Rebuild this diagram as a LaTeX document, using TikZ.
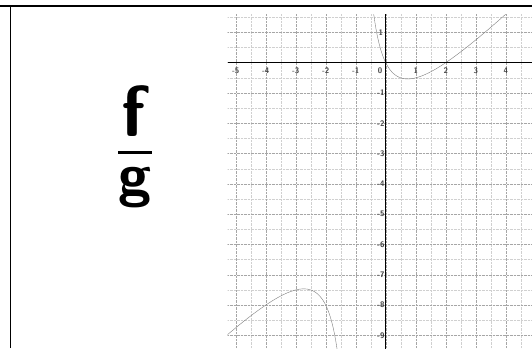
\documentclass[tikz,border=0pt]{standalone}
\usepackage{amsmath}
\usepackage{tikz}
\usetikzlibrary{positioning}
\definecolor{GridGray}{RGB}{150,150,150}
\definecolor{CurveGray}{RGB}{125,125,125}
\definecolor{LabelGray}{RGB}{60,60,60}

\begin{document}
\begin{tikzpicture}[x=1pt, y=1pt]
    \useasboundingbox (0,0) rectangle (532,348);

    % Page rules
    \draw[line width=1.1pt] (0,342) -- (532,342);
    \draw[line width=0.8pt] (10,0) -- (10,342);

    % Handwritten quotient
    \node[font=\Huge, scale=2.9] (quot) at (135,201)
      {$\tfrac{\raisebox{0.08em}{\textsf{\textbf{f}}}}{\textsf{\textbf{g}}}$};

    % Graph of f/g
    \begin{scope}[shift={(385.7,285.3)}, x=30pt, y=30.3pt]
      \begin{scope}
        \clip (-5.27,-9.45) rectangle (4.9,1.6);
        % Grid
        \draw[GridGray!45, densely dotted, step=0.5] (-6,-10) grid (6,2);
        \draw[GridGray!85, densely dotted, step=1] (-6,-10) grid (6,2);

        % Left branch
        \draw[CurveGray, thin, domain=-5.3:-1.62, samples=80]
          plot (\x, {(\x*\x-2*\x)/(\x+1)});
        % Right branch
        \draw[CurveGray, thin, domain=-0.4:4, samples=80]
          plot (\x, {(\x*\x-2*\x)/(\x+1)});
      \end{scope}

      % Axes
      \draw[line width=1.1pt] (-5.27,0) -- (4.9,0);
      \draw[line width=1.1pt] (0,-9.45) -- (0,1.6);

      % Tick labels
      \foreach \i in {-5,...,-1,1,2,3,4}
        \node[font=\fontsize{8}{9}\sffamily\bfseries, text=LabelGray, inner sep=0.5pt]
          (xl\i) at (\i,-0.27) {\i};
      \node[font=\fontsize{8}{9}\sffamily\bfseries, text=LabelGray, inner sep=0.5pt]
        (xl0) at (-0.19,-0.27) {0};
      \foreach \j in {1,-1,-2,-3,-4,-5,-6,-7,-8,-9}
        \node[font=\fontsize{8}{9}\sffamily\bfseries, text=LabelGray, inner sep=0.5pt]
          (yl\j) at (-0.16,\j) {\j};
    \end{scope}
  \end{tikzpicture}
\end{document}
